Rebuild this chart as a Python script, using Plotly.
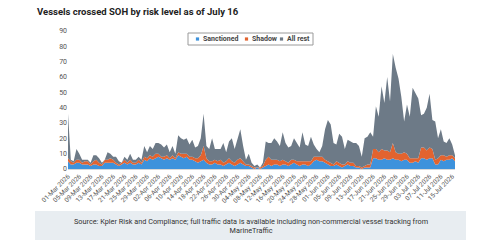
import datetime as dt
import plotly.graph_objects as go

start = dt.date(2026, 3, 1)
n_days = 138
dates = [(start + dt.timedelta(days=i)).isoformat() for i in range(n_days)]

total = [36, 6, 5, 13, 10, 6, 6, 6, 4, 9, 9, 7, 4, 6, 11, 10, 8, 8, 5, 4,
         8, 6, 10, 6, 6, 8, 6, 15, 11, 15, 13, 17, 17, 16, 14, 16, 11, 15, 10, 22,
         20, 19, 20, 16, 19, 14, 15, 20, 36, 15, 13, 20, 13, 13, 13, 17, 11, 18, 20, 13,
         19, 26, 15, 6, 10, 4, 2, 3, 1, 4, 18, 17, 17, 20, 18, 15, 24, 17, 14, 15,
         20, 17, 14, 24, 16, 15, 21, 16, 13, 11, 15, 26, 32, 29, 17, 16, 23, 21, 13, 19,
         18, 17, 17, 15, 8, 20, 21, 24, 21, 41, 34, 54, 43, 60, 44, 75, 66, 59, 47, 31,
         42, 34, 53, 49, 46, 35, 36, 40, 49, 32, 31, 20, 26, 18, 17, 20, 16, 9]

sanctioned = [5, 3, 3, 4, 4, 3, 3, 3, 2, 3, 3, 2, 2, 4, 4, 4, 4, 3, 2, 3,
              4, 3, 4, 3, 3, 4, 3, 6, 5, 7, 6, 7, 8, 7, 6, 7, 6, 7, 6, 9,
              8, 7, 8, 6, 6, 5, 4, 5, 6, 4, 3, 3, 4, 3, 3, 2, 3, 4, 3, 2,
              3, 4, 3, 2, 2, 1, 0, 1, 0, 1, 2, 3, 2, 3, 3, 2, 3, 3, 2, 3,
              4, 3, 2, 3, 3, 2, 3, 5, 6, 5, 5, 4, 3, 2, 2, 3, 2, 1, 2, 3,
              2, 2, 1, 1, 0, 1, 1, 1, 7, 7, 6, 6, 7, 6, 6, 7, 6, 6, 5, 6,
              6, 4, 4, 5, 4, 7, 7, 6, 7, 7, 3, 3, 6, 5, 6, 6, 7, 5]

shadow = [2, 2, 1, 2, 2, 1, 2, 2, 1, 2, 3, 2, 1, 2, 2, 3, 2, 1, 1, 1,
          2, 1, 2, 1, 1, 2, 1, 2, 2, 2, 2, 3, 2, 1, 2, 2, 1, 2, 1, 2,
          2, 3, 2, 2, 2, 2, 3, 4, 9, 3, 2, 2, 2, 2, 3, 2, 2, 3, 2, 2,
          3, 3, 2, 1, 1, 1, 1, 0, 1, 1, 4, 5, 4, 3, 3, 3, 3, 2, 2, 3,
          2, 2, 3, 2, 2, 3, 2, 3, 2, 3, 3, 2, 2, 2, 1, 2, 2, 2, 1, 2,
          2, 2, 1, 1, 1, 1, 2, 2, 6, 6, 5, 7, 5, 6, 5, 10, 5, 4, 5, 5,
          4, 3, 3, 2, 3, 7, 7, 6, 7, 6, 3, 4, 3, 4, 2, 3, 2, 2]

all_rest = [max(t - s - h, 0) for t, s, h in zip(total, sanctioned, shadow)]

series_names = ["Sanctioned", "Shadow", "All rest"]
series_colors = ["#3D92DC", "#E2632F", "#6D7A87"]
series_values = [sanctioned, shadow, all_rest]

tick_dates = [start + dt.timedelta(days=i) for i in range(0, n_days, 4)]
tick_vals = [d.isoformat() for d in tick_dates]
tick_text = [d.strftime("%d-%b %Y") for d in tick_dates]

fig = go.Figure()
for name, color, vals in zip(series_names, series_colors, series_values):
    fig.add_trace(go.Scatter(
        x=dates, y=vals, name=name, mode="lines", stackgroup="one",
        line=dict(width=0, color=color), fillcolor=color, showlegend=False,
    ))

font_family = "Roboto, Arial, sans-serif"

fig.update_layout(
    width=500, height=247,
    margin=dict(l=68, r=45, t=31, b=78),
    paper_bgcolor="white", plot_bgcolor="white",
    font=dict(family=font_family, size=7, color="#555"),
    xaxis=dict(
        range=[dates[0], dates[-1]], tickmode="array", tickvals=tick_vals,
        ticktext=tick_text, tickangle=-45, showgrid=False, zeroline=False,
        showline=True, linecolor="#d9d9d9", linewidth=1, ticks="",
        tickfont=dict(size=6.5, color="#555"),
    ),
    yaxis=dict(
        range=[0, 90], dtick=10, showgrid=False, zeroline=False,
        showline=False, ticks="", tickfont=dict(size=7, color="#555"),
    ),
    showlegend=False,
)

fig.add_annotation(
    text="<b>Vessels crossed SOH by risk level as of July 16</b>",
    xref="paper", yref="paper", x=(35 - 68) / 387, y=(169 - 11) / 138,
    xanchor="left", yanchor="middle", showarrow=False,
    font=dict(size=9.5, color="#222", family=font_family),
)

# manual legend
def px_x(x):
    return (x - 68) / 387

def px_y(y):
    return (169 - y) / 138

fig.add_shape(type="rect", xref="paper", yref="paper",
              x0=px_x(188), x1=px_x(313), y0=px_y(45), y1=px_y(33),
              line=dict(color="#9a9a9a", width=1), fillcolor="white")
legend_x = [197.5, 246.5, 281.5]
for name, color, lx in zip(series_names, series_colors, legend_x):
    fig.add_shape(type="rect", xref="paper", yref="paper",
                  x0=px_x(lx - 1.6), x1=px_x(lx + 1.6),
                  y0=px_y(40.6), y1=px_y(37.4),
                  line=dict(width=0), fillcolor=color)
    fig.add_annotation(text="<b>" + name + "</b>", xref="paper", yref="paper",
                       x=px_x(lx + 3), y=px_y(39), xanchor="left", yanchor="middle",
                       showarrow=False, font=dict(size=7, color="#444"))

# source footer
fig.add_shape(type="rect", xref="paper", yref="paper",
              x0=px_x(35), x1=px_x(466), y0=px_y(240), y1=px_y(211),
              line=dict(width=0), fillcolor="#E8EDF1", layer="below")
fig.add_annotation(
    text="Source: Kpler Risk and Compliance; full traffic data is available including non-commercial vessel tracking from<br>MarineTraffic",
    xref="paper", yref="paper", x=px_x(250.5), y=px_y(225.5),
    xanchor="center", yanchor="middle", showarrow=False, align="center",
    font=dict(size=7.3, color="#333"),
)

fig.write_html("out.html")
